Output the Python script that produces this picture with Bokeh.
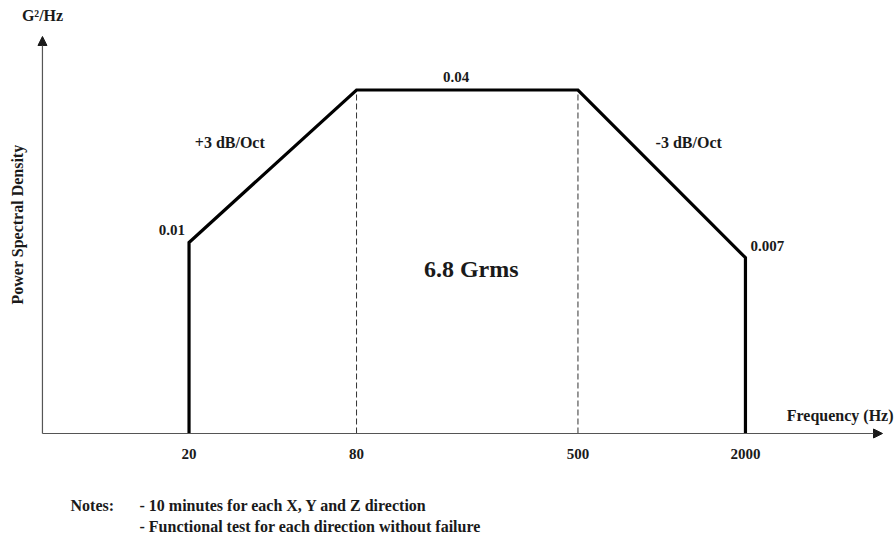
import math
from bokeh.plotting import figure
from bokeh.models import Range1d, Label, Arrow, NormalHead
from bokeh.embed import file_html
from bokeh.resources import INLINE

# ---- data ----
FREQ = [20, 80, 500, 2000]
PSD = [0.01, 0.04, 0.04, 0.007]
TICK_LABELS = ["20", "80", "500", "2000"]
LEVEL_LABELS = ["0.01", "0.04", "0.007"]
SLOPE_LABELS = ["+3 dB/Oct", "-3 dB/Oct"]
GRMS = "6.8 Grms"
X_TITLE = "Frequency (Hz)"
Y_TITLE = "Power Spectral Density"
Y_UNIT = "G\u00b2/Hz"
NOTES_HEAD = "Notes:"
NOTES = ["- 10 minutes for each X, Y and Z direction",
         "- Functional test for each direction without failure"]

# ---- view window (frame = whole canvas) ----
X_VIEW = (4.201, 6924.0)          # log frequency axis
Y_VIEW = (-0.04824, 0.05761)      # PSD axis (schematic, linear)
AXIS_X0, AXIS_X1 = 5.945, 6218.0  # where the drawn axes start / end
AXIS_Y0, AXIS_Y1 = -0.02758, 0.05053

FONT = "Liberation Serif"
INK = "#1a1a1a"
NUM_SIZE = "15px"
WORD_SIZE = "16px"

p = figure(width=895, height=538, x_axis_type="log",
           x_range=Range1d(*X_VIEW), y_range=Range1d(*Y_VIEW),
           x_axis_location=None, y_axis_location=None,
           output_backend="svg", toolbar_location=None,
           min_border=0)
p.outline_line_color = None
p.grid.visible = False
p.background_fill_color = "white"
p.border_fill_color = "white"

# axes drawn as arrows
for xs0, ys0, xs1, ys1 in [(AXIS_X0, AXIS_Y0, AXIS_X1, AXIS_Y0),
                           (AXIS_X0, AXIS_Y0, AXIS_X0, AXIS_Y1)]:
    p.add_layout(Arrow(end=NormalHead(size=9, fill_color=INK, line_color=INK, line_width=1),
                       x_start=xs0, y_start=ys0, x_end=xs1, y_end=ys1,
                       line_color="#555555", line_width=1.2))

# frequency tick labels on the drawn axis
p.text(x=FREQ, y=[AXIS_Y0] * len(FREQ), text=TICK_LABELS, y_offset=21,
       text_align="center", text_baseline="middle",
       text_font={"value": FONT}, text_font_style="bold",
       text_font_size=NUM_SIZE, text_color=INK)

# dashed guides at plateau corners
p.segment(x0=FREQ[1:3], y0=[AXIS_Y0] * 2, x1=FREQ[1:3], y1=PSD[1:3],
          line_dash="6 3", line_width=1, line_color="#333333")

# PSD profile
xs = [FREQ[0]] + FREQ + [FREQ[-1]]
ys = [AXIS_Y0] + PSD + [AXIS_Y0]
p.line(xs, ys, line_width=3.2, line_color="black", line_join="miter")


def lab(text, x, y, xo=0, yo=0, align="center", size=WORD_SIZE, **kw):
    p.add_layout(Label(x=x, y=y, text=text, x_offset=xo, y_offset=yo,
                       text_align=align, text_baseline="middle",
                       text_font=FONT, text_font_style="bold",
                       text_font_size=size, text_color=INK, **kw))


gm = lambda a, b: math.sqrt(a * b)

lab(LEVEL_LABELS[0], FREQ[0], PSD[0], -4, 12, "right", NUM_SIZE)
lab(LEVEL_LABELS[1], gm(FREQ[1], FREQ[2]), PSD[1], -11, 13, size=NUM_SIZE)
lab(LEVEL_LABELS[2], FREQ[3], PSD[3], 5, 12, "left", NUM_SIZE)
lab(SLOPE_LABELS[0], gm(FREQ[0], FREQ[1]), (PSD[0] + PSD[1]) / 2, -43, 24)
lab(SLOPE_LABELS[1], gm(FREQ[2], FREQ[3]), (PSD[2] + PSD[3]) / 2, 27, 31)
lab(GRMS, gm(FREQ[1], FREQ[2]), 0.00488, 4, 0, size="24px")

# titles and notes (screen units, origin at bottom-left of canvas)
S = dict(x_units="screen", y_units="screen")
lab(X_TITLE, 893, 123, align="right", **S)
lab(Y_UNIT, 42, 523, **S)
lab(Y_TITLE, 17, 314, angle=math.pi / 2, **S)
lab(NOTES_HEAD, 70, 33, align="left", **S)
lab(NOTES[0], 139, 33, align="left", **S)
lab(NOTES[1], 139, 12, align="left", **S)

open("out.html", "w").write(file_html(p, INLINE))
